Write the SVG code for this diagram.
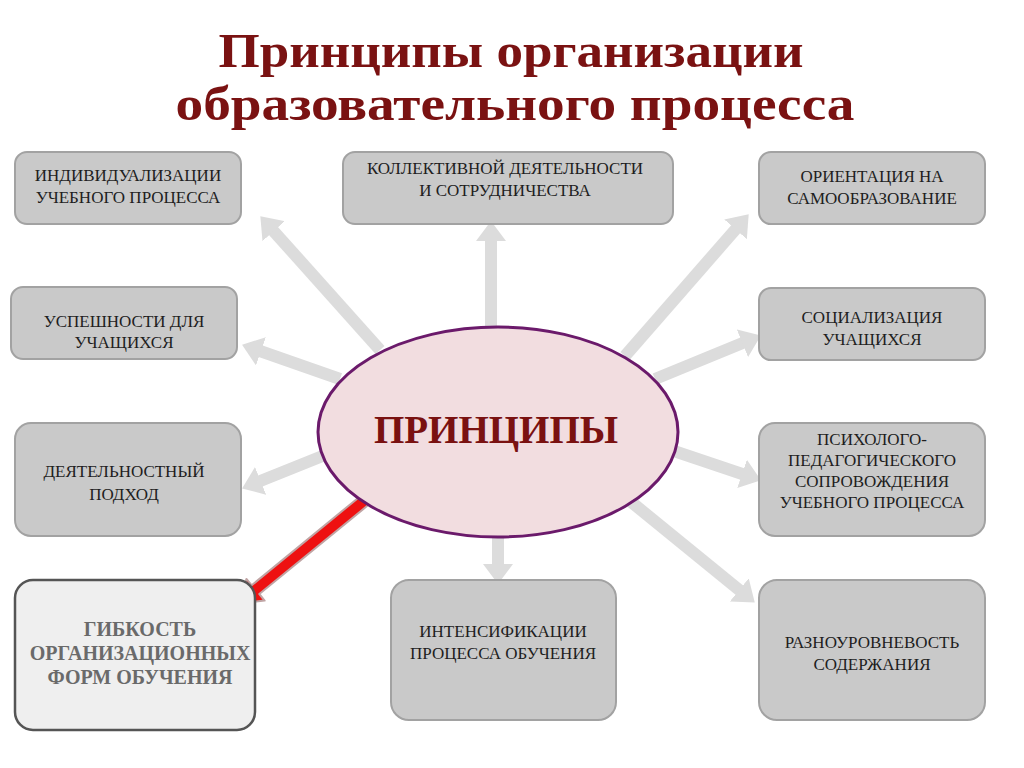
<svg xmlns="http://www.w3.org/2000/svg" width="1024" height="768" viewBox="0 0 1024 768">
<defs>
<style>
.box{fill:#c9c9c9;stroke:#a2a2a2;stroke-width:2}
.hl{fill:#efefef;stroke:#555;stroke-width:2.5}
.t{font-family:"Liberation Serif","DejaVu Serif",serif;font-size:17px;fill:#1e1e1e;text-anchor:middle}
.tb{font-family:"Liberation Serif","DejaVu Serif",serif;font-size:20px;font-weight:bold;fill:#6a6a6a;text-anchor:middle}
.title{font-family:"Liberation Serif","DejaVu Serif",serif;font-size:49px;font-weight:bold;fill:#7a1212;text-anchor:middle}
.arr{stroke:#dcdcdc;stroke-width:12;fill:none;marker-end:url(#head)}
</style>
<marker id="head" markerUnits="userSpaceOnUse" viewBox="0 0 20 30" markerWidth="20" markerHeight="30" refX="1" refY="15" orient="auto">
<path d="M0,0 L20,15 L0,30 z" fill="#dcdcdc"/>
</marker>
</defs>
<rect width="1024" height="768" fill="#ffffff"/>
<g id="title">
<text class="title" x="511" y="67" textLength="585" lengthAdjust="spacingAndGlyphs">Принципы организации</text>
<text class="title" x="515" y="120" textLength="679" lengthAdjust="spacingAndGlyphs">образовательного процесса</text>
</g>
<g id="connectors">
<line class="arr" x1="491" y1="335" x2="491" y2="240"/>
<line class="arr" x1="380" y1="350" x2="273" y2="230.4"/>
<line class="arr" x1="340" y1="379" x2="260" y2="351"/>
<line class="arr" x1="330" y1="453" x2="259.7" y2="481.3"/>
<line class="arr" x1="498" y1="530" x2="498" y2="565"/>
<line class="arr" x1="625" y1="356" x2="736.2" y2="228.6"/>
<line class="arr" x1="655" y1="379" x2="743.3" y2="342.8"/>
<line class="arr" x1="668" y1="449" x2="743" y2="474.2"/>
<line class="arr" x1="630" y1="501" x2="740" y2="590.6"/>
<polygon points="368.8,504.6 259.3,594.0 264.6,600.6 240,603 246.4,578.9 251.7,585.3 361.2,495.4" fill="#ee1111" stroke="#c0a4a4" stroke-width="2" stroke-linejoin="round"/>
</g>
<g id="center">
<ellipse cx="498" cy="432" rx="180" ry="105" fill="#f2dde0" stroke="#6b1a6b" stroke-width="3"/>
<text x="496" y="443" font-family="'Liberation Serif','DejaVu Serif',serif" font-size="39" font-weight="bold" fill="#7a1111" text-anchor="middle">ПРИНЦИПЫ</text>
</g>
<g id="n1">
<rect class="box" x="15" y="152" width="226" height="72" rx="12"/>
<text class="t" x="128" y="181">ИНДИВИДУАЛИЗАЦИИ</text>
<text class="t" x="128" y="203">УЧЕБНОГО ПРОЦЕССА</text>
</g>
<g id="n2">
<rect class="box" x="343" y="152" width="330" height="72" rx="12"/>
<text class="t" x="505" y="174">КОЛЛЕКТИВНОЙ ДЕЯТЕЛЬНОСТИ</text>
<text class="t" x="505" y="196">И СОТРУДНИЧЕСТВА</text>
</g>
<g id="n3">
<rect class="box" x="759" y="152" width="226" height="72" rx="12"/>
<text class="t" x="872" y="182">ОРИЕНТАЦИЯ НА</text>
<text class="t" x="872" y="204">САМООБРАЗОВАНИЕ</text>
</g>
<g id="n4">
<rect class="box" x="11" y="287" width="226" height="72" rx="12"/>
<text class="t" x="124" y="327">УСПЕШНОСТИ ДЛЯ</text>
<text class="t" x="124" y="348">УЧАЩИХСЯ</text>
</g>
<g id="n5">
<rect class="box" x="759" y="288" width="226" height="72" rx="12"/>
<text class="t" x="872" y="323">СОЦИАЛИЗАЦИЯ</text>
<text class="t" x="872" y="345">УЧАЩИХСЯ</text>
</g>
<g id="n6">
<rect class="box" x="15" y="423" width="226" height="113" rx="16"/>
<text class="t" x="124" y="477">ДЕЯТЕЛЬНОСТНЫЙ</text>
<text class="t" x="124" y="500">ПОДХОД</text>
</g>
<g id="n7">
<rect class="box" x="759" y="423" width="226" height="113" rx="16"/>
<text class="t" x="872" y="445">ПСИХОЛОГО-</text>
<text class="t" x="872" y="466">ПЕДАГОГИЧЕСКОГО</text>
<text class="t" x="872" y="487">СОПРОВОЖДЕНИЯ</text>
<text class="t" x="872" y="508">УЧЕБНОГО ПРОЦЕССА</text>
</g>
<g id="n8">
<rect class="hl" x="15" y="580" width="240" height="150" rx="18"/>
<text class="tb" x="140" y="636">ГИБКОСТЬ</text>
<text class="tb" x="140" y="660">ОРГАНИЗАЦИОННЫХ</text>
<text class="tb" x="140" y="684">ФОРМ ОБУЧЕНИЯ</text>
</g>
<g id="n9">
<rect class="box" x="391" y="580" width="225" height="140" rx="18"/>
<text class="t" x="503" y="637">ИНТЕНСИФИКАЦИИ</text>
<text class="t" x="503" y="659">ПРОЦЕССА ОБУЧЕНИЯ</text>
</g>
<g id="n10">
<rect class="box" x="759" y="580" width="226" height="140" rx="18"/>
<text class="t" x="872" y="648">РАЗНОУРОВНЕВОСТЬ</text>
<text class="t" x="872" y="670">СОДЕРЖАНИЯ</text>
</g>
</svg>
